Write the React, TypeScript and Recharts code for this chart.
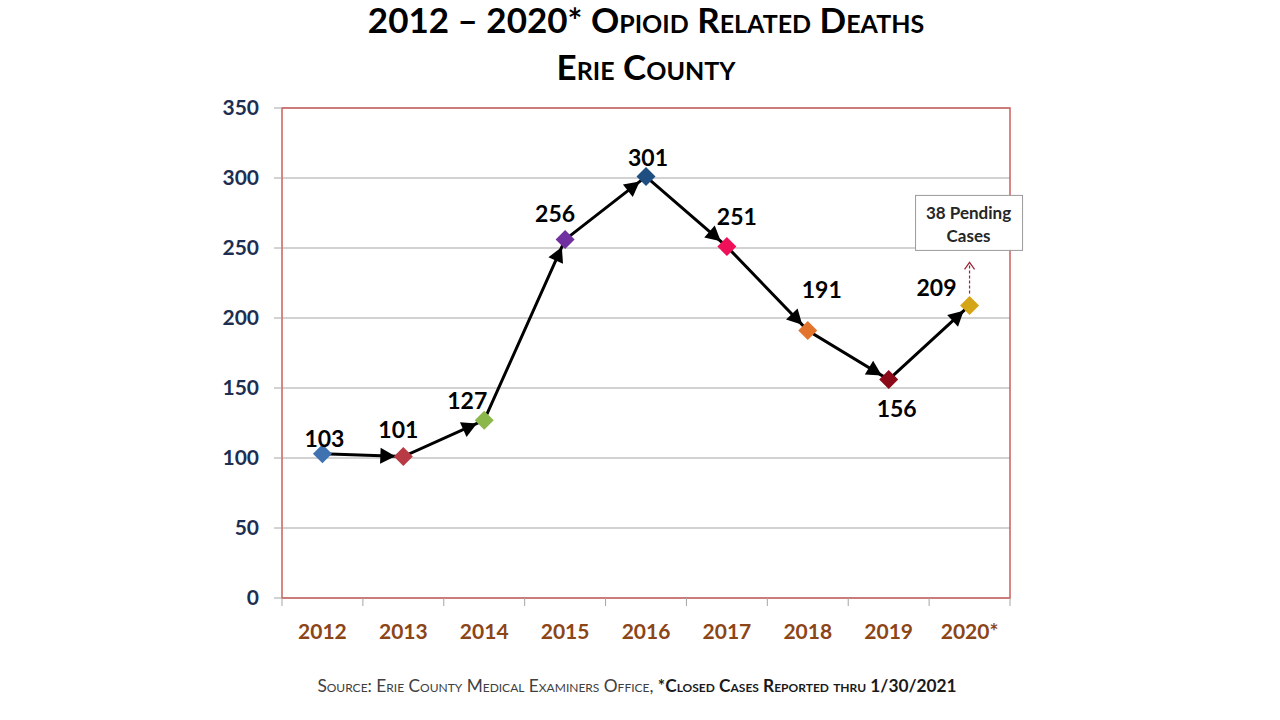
import {
  CartesianGrid,
  LabelList,
  Line,
  LineChart,
  ReferenceArea,
  ReferenceDot,
  XAxis,
  YAxis,
} from "recharts";

const YEARS = ["2012", "2013", "2014", "2015", "2016", "2017", "2018", "2019", "2020*"];
const DEATHS = [103, 101, 127, 256, 301, 251, 191, 156, 209];
const Y_TICKS = [0, 50, 100, 150, 200, 250, 300, 350];
const PENDING_CASES = 38;

const MARKER_COLORS = [
  "#3e72b0",
  "#b83a44",
  "#8ab84a",
  "#7030a0",
  "#1f4e80",
  "#f0105a",
  "#e3742e",
  "#8b0a1a",
  "#d4a617",
];

// where each value label sits relative to its point
const LABEL_OFFSETS: [number, number][] = [
  [2, -16],
  [-5, -28],
  [-17, -20],
  [-10, -27],
  [2, -20],
  [10, -31],
  [14, -42],
  [8, 28],
  [-33, -18],
];

const FONT = "Lato, 'Open Sans', sans-serif";

const data = YEARS.map((year, i) => ({ year, deaths: DEATHS[i] }));

const renderDot = (props: any) => {
  const { cx, cy, index, points } = props;
  const color = MARKER_COLORS[index % MARKER_COLORS.length];
  const prev = index > 0 && points ? points[index - 1] : null;
  let arrow = null;
  if (prev) {
    const vx = cx - prev.x;
    const vy = cy - prev.y;
    const len = Math.sqrt(vx * vx + vy * vy) || 1;
    const ux = vx / len;
    const uy = vy / len;
    const tipX = cx - ux * 8;
    const tipY = cy - uy * 8;
    const baseX = tipX - ux * 15;
    const baseY = tipY - uy * 15;
    const nx = -uy * 8;
    const ny = ux * 8;
    arrow = (
      <polygon
        points={`${tipX},${tipY} ${baseX + nx},${baseY + ny} ${baseX - nx},${baseY - ny}`}
        fill="#000"
      />
    );
  }
  const s = 9.5;
  return (
    <g key={`dot-${index}`}>
      {arrow}
      <path
        d={`M${cx},${cy - s} L${cx + s},${cy} L${cx},${cy + s} L${cx - s},${cy} Z`}
        fill={color}
      />
    </g>
  );
};

const renderLabel = (props: any) => {
  const { x, y, value, index } = props;
  const [dx, dy] = LABEL_OFFSETS[index] || [0, -20];
  return (
    <text
      x={x + dx}
      y={y + dy}
      textAnchor="middle"
      dominantBaseline="central"
      fontFamily={FONT}
      fontWeight={700}
      fontSize={23}
      fill="#000"
    >
      {value}
    </text>
  );
};

const XTick = (props: any) => {
  const { x, y, payload, index, visibleTicksCount } = props;
  const half = payload?.offset ?? 0;
  const last = index === visibleTicksCount - 1;
  return (
    <g>
      <line x1={x - half} x2={x - half} y1={y} y2={y + 8} stroke="#a6a6a6" />
      {last && <line x1={x + half} x2={x + half} y1={y} y2={y + 8} stroke="#a6a6a6" />}
      <text
        x={x}
        y={y + 32}
        textAnchor="middle"
        dominantBaseline="central"
        fontFamily={FONT}
        fontWeight={700}
        fontSize={21}
        fill="#8c4517"
      >
        {payload.value}
      </text>
    </g>
  );
};

const renderPending = (props: any) => {
  const { cx, cy } = props;
  return (
    <g>
      <rect x={cx - 54} y={cy - 110} width={107} height={55} fill="#fff" stroke="#9a9a9a" />
      <text
        x={cx - 1}
        y={cy - 93}
        textAnchor="middle"
        dominantBaseline="central"
        fontFamily={FONT}
        fontWeight={700}
        fontSize={17}
        fill="#262626"
      >
        {`${PENDING_CASES} Pending`}
      </text>
      <text
        x={cx - 1}
        y={cy - 70}
        textAnchor="middle"
        dominantBaseline="central"
        fontFamily={FONT}
        fontWeight={700}
        fontSize={17}
        fill="#262626"
      >
        Cases
      </text>
      <line
        x1={cx}
        x2={cx}
        y1={cy - 12}
        y2={cy - 42}
        stroke="#9b2335"
        strokeWidth={1.2}
        strokeDasharray="3 2"
      />
      <polyline
        points={`${cx - 5},${cy - 36} ${cx},${cy - 43} ${cx + 5},${cy - 36}`}
        fill="none"
        stroke="#9b2335"
        strokeWidth={1.2}
      />
    </g>
  );
};

const App = () => {
  return (
    <div
      style={{
        position: "absolute",
        left: 0,
        top: 0,
        width: 1280,
        height: 720,
        background: "#fff",
        fontFamily: FONT,
      }}
    >
      <div
        style={{
          position: "absolute",
          left: 6,
          top: -4,
          width: 1280,
          textAlign: "center",
          fontWeight: 700,
          fontSize: 35,
          fontVariant: "small-caps",
          lineHeight: "47px",
          color: "#000",
        }}
      >
        <div>2012 – 2020* Opioid Related Deaths</div>
        <div>Erie County</div>
      </div>

      <div style={{ position: "absolute", left: 0, top: 0 }}>
        <LineChart
          width={1280}
          height={720}
          data={data}
          margin={{ top: 108, right: 270, bottom: 72, left: 222 }}
        >
          <CartesianGrid vertical={false} stroke="#a6a6a6" strokeWidth={1.2} />
          <XAxis
            dataKey="year"
            scale="band"
            axisLine={false}
            tickLine={false}
            tickSize={0}
            tickMargin={0}
            height={50}
            interval={0}
            tick={<XTick />}
          />
          <YAxis
            domain={[0, 350]}
            ticks={Y_TICKS}
            width={60}
            axisLine={false}
            tickLine={{ stroke: "#a6a6a6" }}
            tickSize={8}
            tickMargin={15}
            tick={{ fill: "#1c2f52", fontFamily: FONT, fontWeight: 700, fontSize: 21 }}
          />
          <ReferenceArea
            y1={0}
            y2={350}
            fill="none"
            stroke="#c9605e"
            strokeWidth={1.5}
            fillOpacity={0}
          />
          <Line
            dataKey="deaths"
            stroke="#000"
            strokeWidth={3}
            dot={renderDot}
            activeDot={false}
            isAnimationActive={false}
          >
            <LabelList dataKey="deaths" content={renderLabel} />
          </Line>
          <ReferenceDot x="2020*" y={DEATHS[DEATHS.length - 1]} r={0} shape={renderPending} />
        </LineChart>
      </div>

      <div
        style={{
          position: "absolute",
          left: 0,
          top: 675,
          width: 1274,
          textAlign: "center",
          fontSize: 17.3,
          fontVariant: "small-caps",
          color: "#404040",
        }}
      >
        Source: Erie County Medical Examiners Office,{" "}
        <span style={{ fontWeight: 700, color: "#1a1a1a" }}>
          *Closed Cases Reported thru 1/30/2021
        </span>
      </div>
    </div>
  );
};

export default App;
